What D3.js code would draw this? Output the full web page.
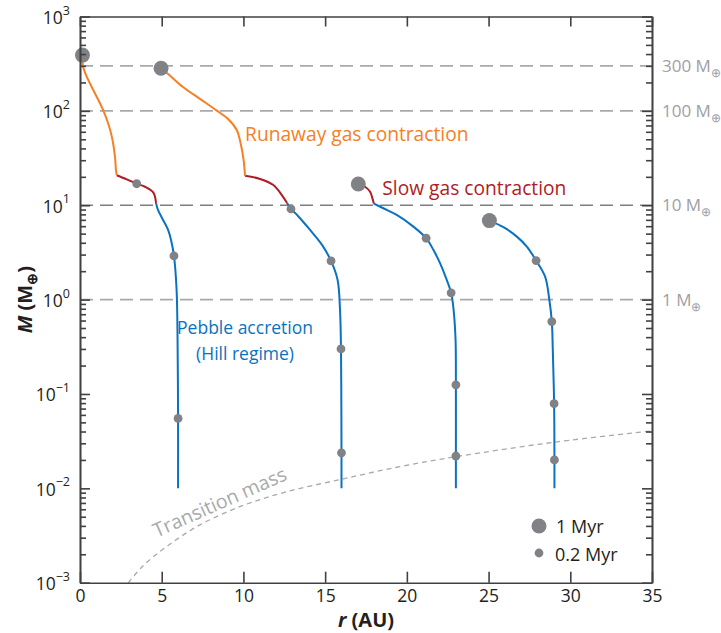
<!DOCTYPE html>
<html><head><meta charset="utf-8">
<script src="https://cdn.jsdelivr.net/npm/d3@7"></script>
<style>body{margin:0;background:#fff} svg{display:block;font-family:"Open Sans","Noto Sans",sans-serif}</style>
</head><body><svg id="c" width="721" height="633"></svg>
<script>
// ---------- data ----------
const xTicks = [0, 5, 10, 15, 20, 25, 30, 35];
const yDecades = [-3, -2, -1, 0, 1, 2, 3];
const refMasses = [300, 100, 10, 1];
const refLabels = ["300", "100", "10", "1"];

// planet tracks, [r (AU), M (Earth masses)]
const p1Pebble  = [[6.0,0.01],[6.0,0.053],[5.97,0.374],[5.91,1.27],[5.75,2.90],[5.57,4.29],[5.39,5.47],[5.02,7.33],[4.77,8.91],[4.65,10.6]];
const p1Slow    = [[4.65,10.6],[4.49,13.6],[3.98,15.7],[3.47,16.9],[2.86,18.8],[2.25,20.8]];
const p1Runaway = [[2.25,20.8],[2.20,23.7],[2.14,32.7],[1.99,49.2],[1.79,68.0],[1.43,100.5],[0.92,153],[0.41,230],[0.17,306],[0.16,350]];

const p2Pebble  = [[16.0,0.01],[16.0,0.0238],[15.99,0.0866],[15.97,0.30],[15.91,0.778],[15.76,1.62],[15.36,2.57],[14.81,3.80],[14.08,5.47],[13.34,7.70],[12.91,9.14],[12.66,10.6]];
const p2Slow    = [[12.66,10.6],[12.34,12.9],[11.83,16.4],[11.02,19.0],[10.10,20.5]];
const p2Runaway = [[10.10,20.5],[10.01,30.2],[9.85,43.5],[9.59,62.8],[9.06,82.1],[8.37,100.5],[7.34,134],[6.30,179],[5.39,246],[4.96,283]];

const p3Pebble  = [[23.0,0.01],[23.0,0.022],[23.0,0.125],[22.98,0.374],[22.86,0.778],[22.71,1.18],[22.44,1.62],[22.03,2.43],[21.62,3.37],[21.18,4.47],[20.40,5.93],[19.38,7.89],[18.56,9.29],[17.98,10.4]];
const p3Slow    = [[17.98,10.4],[17.89,11.9],[17.75,13.9],[17.44,15.7],[17.03,16.8]];

const p4Pebble  = [[29.03,0.01],[29.03,0.020],[29.01,0.079],[28.93,0.293],[28.87,0.585],[28.72,0.99],[28.46,1.75],[27.91,2.59],[27.34,3.64],[26.73,4.65],[25.91,5.85],[25.05,6.87]];

// time markers
const dots02 = [[6.0,0.055],[5.75,2.90],[3.47,16.9],
                [16.0,0.0238],[15.97,0.30],[15.36,2.57],[12.91,9.14],
                [23.0,0.022],[23.0,0.125],[22.71,1.18],[21.18,4.47],
                [29.03,0.020],[29.01,0.079],[28.87,0.585],[27.91,2.59]];
const dots1 = [[0.15,390],[4.96,283],[17.03,16.8],[25.05,6.87]];

// transition mass curve
const transition = [[2.96,0.001],[3.86,0.00151],[5.31,0.00242],[7.34,0.0041],[9.99,0.0066],[12.65,0.0092],[16.02,0.0125],[19.58,0.0170],[23.05,0.0217],[29.07,0.0309],[35,0.0406]];

// ---------- drawing ----------
const svg = d3.select("#c");
const L = 80, R = 652, T = 16.5, B = 582.7;
const x = d3.scaleLinear().domain([0, 35]).range([L, R]);
const y = d3.scaleLog().domain([1e-3, 1e3]).range([B, T]);

const cBlue = "#0a72c0", cOrange = "#f58025", cRed = "#b01c24", cDot = "#808285";
const axisCol = "#414042";

// reference dashed lines
refMasses.forEach((m, i) => {
  svg.append("line")
    .attr("x1", L).attr("x2", R).attr("y1", y(m)).attr("y2", y(m))
    .attr("stroke", m === 10 ? "#7d7e81" : "#a7a9ac")
    .attr("stroke-width", 1.6)
    .attr("stroke-dasharray", "13,7");
  const t = svg.append("text")
    .attr("x", R + 10).attr("y", y(m) + 6)
    .attr("fill", "#a0a0a3").attr("font-size", 17)
    .text(refLabels[i] + " M");
  t.append("tspan").attr("dy", 5).attr("font-size", 12).text("⊕");
});

// transition mass
const line = d3.line().x(d => x(d[0])).y(d => y(d[1])).curve(d3.curveCatmullRom.alpha(0.5));
svg.append("path").attr("d", line(transition))
  .attr("fill", "none").attr("stroke", "#a7a9ac").attr("stroke-width", 1.3)
  .attr("stroke-dasharray", "5,4");

// tracks
const tracks = [
  [p1Pebble, cBlue], [p1Slow, cRed], [p1Runaway, cOrange],
  [p2Pebble, cBlue], [p2Slow, cRed], [p2Runaway, cOrange],
  [p3Pebble, cBlue], [p3Slow, cRed],
  [p4Pebble, cBlue]
];
tracks.forEach(([d, c]) => {
  svg.append("path").attr("d", line(d))
    .attr("fill", "none").attr("stroke", c).attr("stroke-width", 2)
    .attr("stroke-linejoin", "round");
});

// dots
svg.selectAll("circle.s").data(dots02).enter().append("circle")
  .attr("cx", d => x(d[0])).attr("cy", d => y(d[1])).attr("r", 4.4).attr("fill", cDot);
svg.selectAll("circle.b").data(dots1).enter().append("circle")
  .attr("cx", d => x(d[0])).attr("cy", d => y(d[1])).attr("r", 7.5).attr("fill", cDot);

// axes
const majors = yDecades.map(e => Math.pow(10, e));
const minors = [];
yDecades.slice(0, -1).forEach(e => { for (let k = 2; k <= 9; k++) minors.push(k * Math.pow(10, e)); });

function styleAxis(g) {
  g.selectAll("path,line").attr("stroke", axisCol).attr("stroke-width", 1.6);
  g.selectAll("text").attr("fill", "#231f20").attr("font-family", '"Open Sans",sans-serif');
}

const gB = svg.append("g").attr("transform", `translate(0,${B})`)
  .call(d3.axisBottom(x).tickValues(xTicks).tickSize(-11).tickSizeOuter(0).tickPadding(7));
gB.selectAll("text").attr("font-size", 17.5);
styleAxis(gB);

const gT = svg.append("g").attr("transform", `translate(0,${T})`)
  .call(d3.axisTop(x).tickValues(xTicks).tickSize(-10).tickSizeOuter(0).tickFormat(() => ""));
styleAxis(gT);

const gL = svg.append("g").attr("transform", `translate(${L},0)`)
  .call(d3.axisLeft(y).tickValues(majors).tickSize(-10).tickSizeOuter(0).tickPadding(10).tickFormat(() => ""));
gL.selectAll(".tick text").each(function (d) {
  const e = Math.round(Math.log10(d));
  const t = d3.select(this).attr("font-size", 17.5).attr("dy", "0.4em");
  t.text("10");
  t.append("tspan").attr("dy", "-0.75em").attr("font-size", 12.5).text(e < 0 ? "\u2212" + (-e) : String(e));
});
styleAxis(gL);
const gLm = svg.append("g").attr("transform", `translate(${L},0)`)
  .call(d3.axisLeft(y).tickValues(minors).tickSize(-6).tickSizeOuter(0).tickFormat(() => ""));
styleAxis(gLm);

const gR = svg.append("g").attr("transform", `translate(${R},0)`)
  .call(d3.axisRight(y).tickValues(majors).tickSize(-10).tickSizeOuter(0).tickFormat(() => ""));
styleAxis(gR);
const gRm = svg.append("g").attr("transform", `translate(${R},0)`)
  .call(d3.axisRight(y).tickValues(minors).tickSize(-6).tickSizeOuter(0).tickFormat(() => ""));
styleAxis(gRm);

// axis titles
const xt = svg.append("text").attr("x", (L + R) / 2).attr("y", 627).attr("text-anchor", "middle")
  .attr("font-size", 20).attr("font-weight", "bold").attr("fill", "#231f20");
xt.append("tspan").attr("font-style", "italic").text("r");
xt.append("tspan").text(" (AU)");

const yt = svg.append("text").attr("transform", `translate(32,${(T + B) / 2}) rotate(-90)`)
  .attr("text-anchor", "middle").attr("font-size", 20).attr("font-weight", "bold").attr("fill", "#231f20");
yt.append("tspan").attr("font-style", "italic").text("M");
yt.append("tspan").text(" (M");
yt.append("tspan").attr("dy", 5).attr("font-size", 14).text("⊕");
yt.append("tspan").attr("dy", -5).text(")");

// annotations
svg.append("text").attr("x", x(10.1)).attr("y", y(48)).attr("fill", cOrange).attr("font-size", 19.2)
  .text("Runaway gas contraction");
svg.append("text").attr("x", x(18.5)).attr("y", y(12.9)).attr("fill", cRed).attr("font-size", 19.2)
  .text("Slow gas contraction");
svg.append("text").attr("x", x(10.1)).attr("y", y(0.433)).attr("fill", cBlue).attr("font-size", 17.5)
  .attr("text-anchor", "middle").text("Pebble accretion");
svg.append("text").attr("x", x(10.1)).attr("y", y(0.23)).attr("fill", cBlue).attr("font-size", 17.5)
  .attr("text-anchor", "middle").text("(Hill regime)");
svg.append("text").attr("transform", `translate(${x(4.7)},${y(0.00300)}) rotate(-24)`)
  .attr("fill", "#a7a9ac").attr("font-size", 19.5).text("Transition mass");

// legend
svg.append("circle").attr("cx", 539).attr("cy", 526).attr("r", 7.5).attr("fill", cDot);
svg.append("text").attr("x", 556).attr("y", 532.5).attr("font-size", 18).attr("fill", "#231f20").text("1 Myr");
svg.append("circle").attr("cx", 539).attr("cy", 553).attr("r", 4.4).attr("fill", cDot);
svg.append("text").attr("x", 555).attr("y", 560.5).attr("font-size", 18).attr("fill", "#231f20").text("0.2 Myr");
</script></body></html>
